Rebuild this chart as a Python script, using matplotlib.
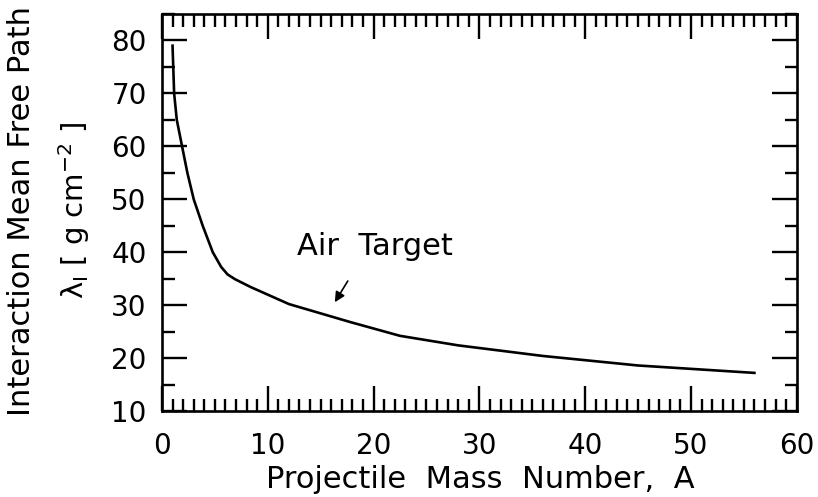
import matplotlib.pyplot as plt
from matplotlib.ticker import MultipleLocator

plt.rcParams['font.family'] = ['DejaVu Sans']
plt.rcParams['mathtext.fontset'] = 'dejavusans'

# projectile mass number A vs interaction mean free path (g/cm^2) in air
mass_number = [1, 1.15, 1.4, 1.9, 2.4, 3.0, 3.85, 4.8, 5.6, 6.2, 6.9, 8.4,
               12, 17.8, 22.5, 28, 36, 45, 56]
mean_free_path = [79, 70, 65, 60, 55, 50, 45, 40, 37.2, 35.8, 34.9, 33.4,
                  30.2, 26.8, 24.2, 22.4, 20.4, 18.6, 17.2]

xlim = (0, 60)
ylim = (10, 85)
xticks = [0, 10, 20, 30, 40, 50, 60]
yticks = [10, 20, 30, 40, 50, 60, 70, 80]

fig = plt.figure(figsize=(8.18, 4.97), dpi=100)
ax = fig.add_axes([0.198, 0.173, 0.776, 0.799])

ax.plot(mass_number, mean_free_path, color='black', linewidth=1.9)

ax.set_xlim(*xlim)
ax.set_ylim(*ylim)
ax.set_xticks(xticks)
ax.set_yticks(yticks)
ax.xaxis.set_minor_locator(MultipleLocator(1))
ax.yaxis.set_minor_locator(MultipleLocator(5))

ax.tick_params(which='both', direction='in', top=True, right=True,
               width=1.7, labelsize=20, color='black')
ax.tick_params(which='major', length=18)
ax.tick_params(which='minor', length=9)
ax.tick_params(axis='y', which='major', pad=11)
ax.tick_params(axis='x', which='major', pad=15)
for s in ax.spines.values():
    s.set_linewidth(1.9)

fig.text(0.587, 0.018, 'Projectile  Mass  Number,  A',
         ha='center', va='baseline', fontsize=22)
fig.text(0.0265, 0.575, 'Interaction Mean Free Path', rotation=90,
         ha='center', va='center', fontsize=22)
fig.text(0.0905, 0.577, 'λ$_\\mathrm{I}$ [ g cm$^{-2}$ ]', rotation=90,
         ha='center', va='center', fontsize=21)

ax.text(12.8, 39.4, 'Air  Target', fontsize=22, ha='left', va='baseline')
ax.annotate('', xy=(16.2, 30.1), xytext=(17.7, 35.0),
            arrowprops=dict(arrowstyle='-|>', color='black', lw=1.2,
                            mutation_scale=15))

fig.savefig('out.png', dpi=100)
